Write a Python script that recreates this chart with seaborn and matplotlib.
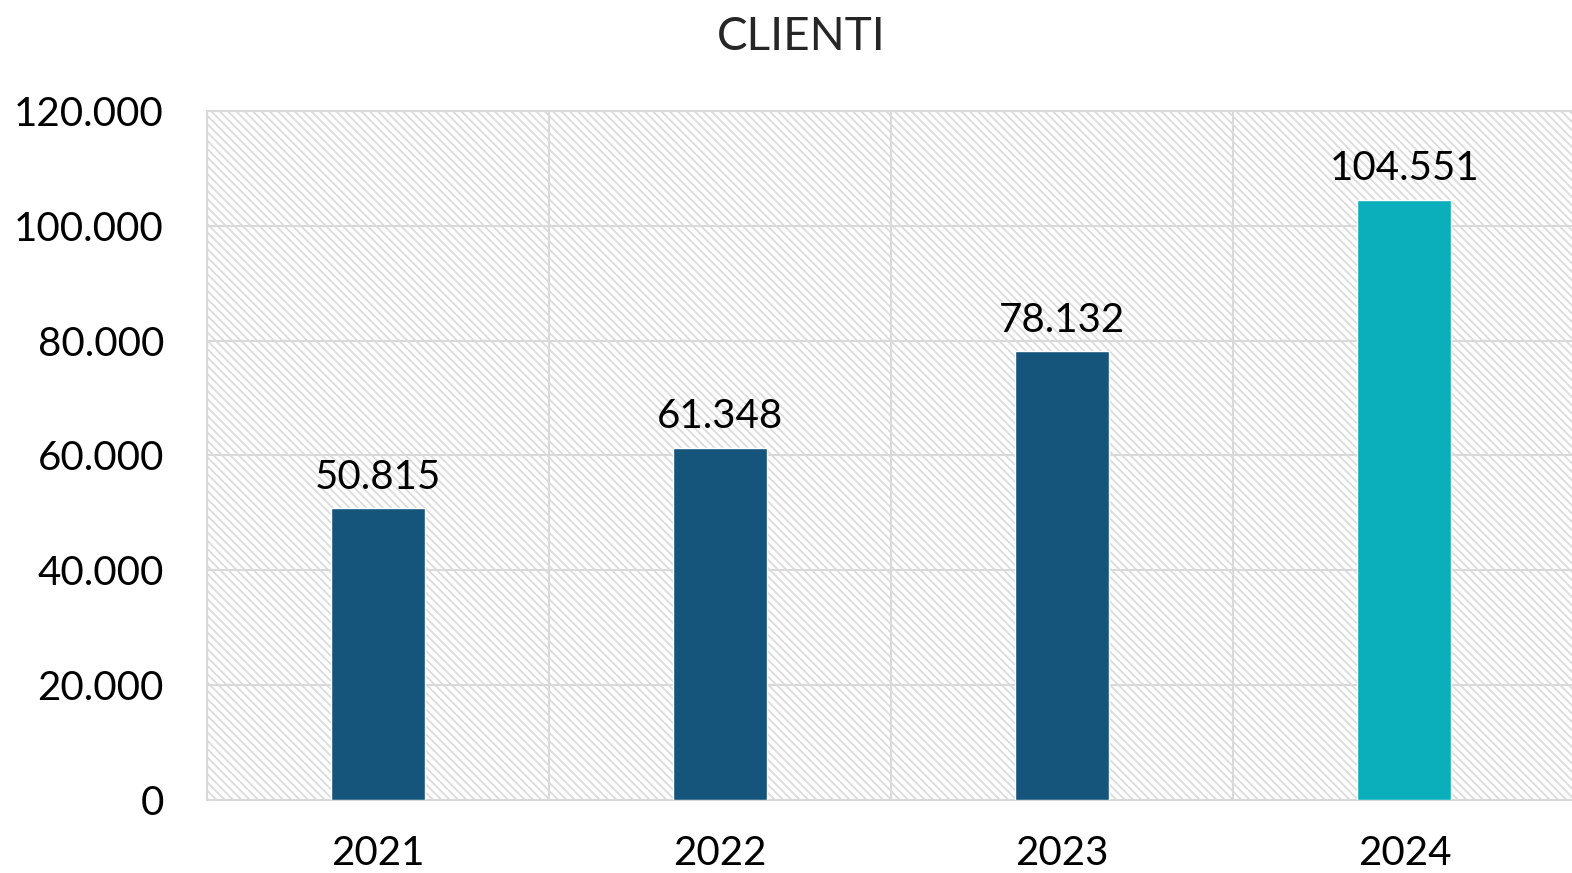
import matplotlib
matplotlib.use("Agg")
import matplotlib.pyplot as plt
import seaborn as sns
import pandas as pd
from matplotlib.patches import Rectangle
from matplotlib.ticker import FuncFormatter, FixedLocator

years = ["2021", "2022", "2023", "2024"]
clienti = [50815, 61348, 78132, 104551]
bar_colors = ["#16557B", "#16557B", "#16557B", "#0AAFBB"]
title = "CLIENTI"

sns.set_theme(style="white")
plt.rcParams['font.family'] = ['Lato', 'DejaVu Sans']
plt.rcParams['hatch.linewidth'] = 1.3
plt.rcParams['hatch.color'] = '#dcdcdc'

df = pd.DataFrame({"anno": years, "clienti": clienti})

fig = plt.figure(figsize=(15.72, 8.73), dpi=100)
ax = fig.add_axes([0.1317, 0.0836, 0.8705, 0.7893])

# hatched background
bg = Rectangle((0, 0), 1, 1, transform=ax.transAxes, facecolor='white',
               edgecolor='#dcdcdc', hatch='\\\\\\\\', linewidth=0, zorder=0)
ax.add_patch(bg)

sns.barplot(data=df, x="anno", y="clienti", hue="anno", palette=bar_colors,
            width=0.275, legend=False, ax=ax, zorder=3, saturation=1)

ax.set_xlim(-0.5, 3.5)
ax.set_ylim(0, 120000)
ax.yaxis.set_major_locator(FixedLocator([0, 20000, 40000, 60000, 80000, 100000, 120000]))
fmt = lambda v, p: f"{int(v):,}".replace(",", ".")
ax.yaxis.set_major_formatter(FuncFormatter(fmt))
ax.set_xticks([-0.5, 0.5, 1.5, 2.5, 3.5], minor=True)
ax.grid(True, axis='y', which='major', color='#d9d9d9', linewidth=1.5, zorder=1)
ax.grid(True, axis='x', which='minor', color='#d9d9d9', linewidth=1.5, zorder=1)
ax.grid(False, axis='x', which='major')
ax.set_axisbelow(True)

for s in ax.spines.values():
    s.set_color('#d9d9d9')
    s.set_linewidth(1.5)
ax.spines['right'].set_visible(False)

ax.tick_params(axis='both', which='both', length=0, labelsize=29, colors='black')
ax.tick_params(axis='y', pad=31)
ax.tick_params(axis='x', pad=25)
ax.set_xlabel("")
ax.set_ylabel("")

for i, v in enumerate(clienti):
    ax.annotate(fmt(v, None), (i, v), xytext=(0, 9), textcoords='offset points',
                ha='center', va='bottom', fontsize=29, color='black', zorder=5)

fig.suptitle(title, fontsize=33, y=0.982, va='top', x=0.51)

fig.savefig("out.png", dpi=100)
